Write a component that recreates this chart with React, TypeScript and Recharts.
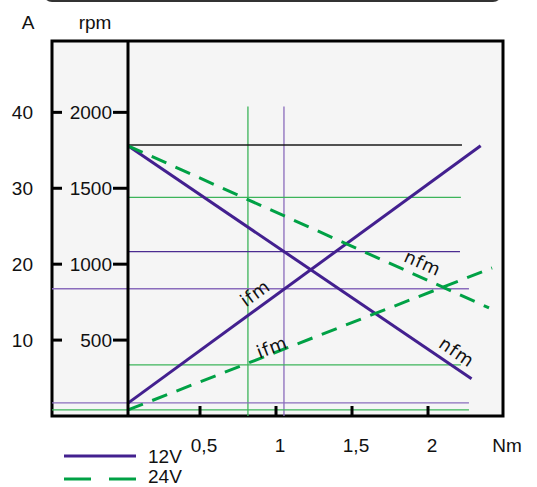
import React from "react";
import {
  ComposedChart,
  Line,
  XAxis,
  YAxis,
  CartesianGrid,
  ReferenceLine,
  ReferenceArea,
  ReferenceDot,
  Legend,
} from "recharts";

// Motor characteristics: speed (nfm) and current (ifm) against torque, 12V and 24V.
const FONT = "'Liberation Sans', Arial, sans-serif";
const CURVE_FONT = "'DejaVu Sans', Verdana, sans-serif";

const RPM_PER_AMP = 50; // 500 rpm on the right scale == 10 A on the left scale
const RPM_MAX = 2470;
const TORQUE_MIN = -0.5;
const TORQUE_MAX = 2.467;
const AXIS_W = 52; // left margin 0 + y-axis width => plot box left edge

const nfm12Torque = [0, 2.26];
const nfm12Rpm = [1780, 245];
const ifm12Torque = [0, 2.32];
const ifm12Amp = [1.7, 35.6];
const nfm24Torque = [0, 2.375];
const nfm24Rpm = [1780, 712];
const ifm24Torque = [0, 2.395];
const ifm24Amp = [0.8, 19.5];

const rpmTicks = [500, 1000, 1500, 2000];
const torqueTicks = [0.5, 1, 1.5, 2];
const torqueTickLabels = ["0,5", "1", "1,5", "2"];

// horizontal read-off lines (rpm), their start / end torque
const hMarkRpm = [1785, 1440, 1083, 838, 337, 86, 40];
const hMarkFrom = [0, 0, 0, -0.5, 0, -0.5, -0.5];
const hMarkTo = [2.197, 2.19, 2.184, 2.243, 2.19, 2.243, 2.243];
const hMarkKind = ["black", "green", "purple", "lilac", "green", "lilac", "green"];

// vertical read-off lines (Nm)
const vMarkTorque = [0.789, 1.026];
const vMarkTop = 2038;
const vMarkKind = ["green", "lilac"];

const curveLabelText = ["ifm", "ifm", "nfm", "nfm"];
const curveLabelTorque = [0.836, 0.947, 1.94, 2.164];
const curveLabelRpm = [811, 455, 1009, 422];
const curveLabelAngle = [-36, -21, 24, 34];

const COLORS: Record<string, string> = {
  black: "#1a1a1a",
  green: "#3cb45a",
  purple: "#4b2c91",
  lilac: "#8a6cbc",
};
const PURPLE = "#43208f";
const GREEN = "#00a145";

const toPoints = (xs: number[], ys: number[]) => xs.map((x, i) => ({ x, v: ys[i] }));

function RpmTick({ y, payload }: any) {
  const rpm = payload.value as number;
  const x = AXIS_W;
  const txt = { fontSize: 19, fontFamily: FONT, fill: "#111", dy: "0.36em", textAnchor: "end" as const };
  return (
    <g>
      <text x={x - 19} y={y} {...txt}>
        {rpm / RPM_PER_AMP}
      </text>
      <line x1={x} x2={x + 10} y1={y} y2={y} stroke="#000" strokeWidth={3} />
      <text x={x + 60} y={y} {...txt}>
        {rpm}
      </text>
      <line x1={x + 61} x2={x + 75} y1={y} y2={y} stroke="#000" strokeWidth={3} />
    </g>
  );
}

function TorqueTick({ x, y, payload, index }: any) {
  return (
    <g>
      <line x1={x - 4} x2={x - 4} y1={y} y2={y - 10} stroke="#000" strokeWidth={3} />
      <text x={x} y={y + 29} dy="0.36em" textAnchor="middle" fontSize={19} fontFamily={FONT} fill="#111">
        {torqueTickLabels[index] ?? payload.value}
      </text>
    </g>
  );
}

function LegendBox() {
  return (
    <svg width={200} height={47}>
      <line x1={64} x2={136} y1={16} y2={16} stroke={PURPLE} strokeWidth={3} />
      <text x={148} y={16} dy="0.36em" fontSize={19} fontFamily={FONT} fill="#111">
        12V
      </text>
      <line x1={64} x2={136} y1={39} y2={39} stroke={GREEN} strokeWidth={3} strokeDasharray="27 18" />
      <text x={148} y={36} dy="0.36em" fontSize={19} fontFamily={FONT} fill="#111">
        24V
      </text>
    </svg>
  );
}

export default function App() {
  return (
    <div style={{ position: "absolute", left: 0, top: 0, width: 537, height: 487, background: "#fff", overflow: "hidden" }}>
      <div
        style={{
          position: "absolute",
          left: 43,
          top: -16,
          width: 459,
          height: 18,
          border: "2px solid #333",
          borderRadius: 12,
          boxSizing: "border-box",
        }}
      />
      <ComposedChart width={537} height={487} margin={{ top: 41, right: 34, left: 0, bottom: 31 }}>
        <CartesianGrid fill="#f5f5f5" horizontal={false} vertical={false} />
        <XAxis
          type="number"
          dataKey="x"
          domain={[TORQUE_MIN, TORQUE_MAX]}
          allowDataOverflow
          ticks={torqueTicks}
          axisLine={false}
          tickLine={false}
          tickSize={0}
          tickMargin={0}
          height={40}
          tick={<TorqueTick />}
          label={{
            content: ({ viewBox }: any) => (
              <text
                x={viewBox.x + viewBox.width + 4}
                y={viewBox.y + 29}
                dy="0.36em"
                textAnchor="middle"
                fontSize={19}
                fontFamily={FONT}
                fill="#111"
              >
                Nm
              </text>
            ),
          }}
        />
        <YAxis
          yAxisId="rpm"
          type="number"
          domain={[0, RPM_MAX]}
          allowDataOverflow
          ticks={rpmTicks}
          axisLine={false}
          tickLine={false}
          tickSize={0}
          tickMargin={0}
          width={AXIS_W}
          tick={<RpmTick />}
          label={{
            content: ({ viewBox }: any) => (
              <g fontSize={19} fontFamily={FONT} fill="#111">
                <text x={28} y={viewBox.y - 19} dy="0.36em" textAnchor="middle">
                  A
                </text>
                <text x={95} y={viewBox.y - 19} dy="0.36em" textAnchor="middle">
                  rpm
                </text>
              </g>
            ),
          }}
        />
        <YAxis yAxisId="amp" type="number" domain={[0, RPM_MAX / RPM_PER_AMP]} allowDataOverflow hide />

        {vMarkTorque.map((t, i) => (
          <ReferenceLine
            key={`v${i}`}
            yAxisId="rpm"
            segment={[
              { x: t, y: 0 },
              { x: t, y: vMarkTop },
            ]}
            stroke={COLORS[vMarkKind[i]]}
            strokeWidth={1.3}
          />
        ))}
        {hMarkRpm.map((r, i) => (
          <ReferenceLine
            key={`h${i}`}
            yAxisId="rpm"
            segment={[
              { x: hMarkFrom[i], y: r },
              { x: hMarkTo[i], y: r },
            ]}
            stroke={COLORS[hMarkKind[i]]}
            strokeWidth={1.3}
          />
        ))}

        <Line yAxisId="rpm" data={toPoints(nfm12Torque, nfm12Rpm)} dataKey="v" stroke={PURPLE} strokeWidth={3} dot={false} isAnimationActive={false} />
        <Line yAxisId="amp" data={toPoints(ifm12Torque, ifm12Amp)} dataKey="v" stroke={PURPLE} strokeWidth={3} dot={false} isAnimationActive={false} />
        <Line yAxisId="rpm" data={toPoints(nfm24Torque, nfm24Rpm)} dataKey="v" stroke={GREEN} strokeWidth={3} strokeDasharray="16 10" dot={false} isAnimationActive={false} />
        <Line yAxisId="amp" data={toPoints(ifm24Torque, ifm24Amp)} dataKey="v" stroke={GREEN} strokeWidth={3} strokeDasharray="16 10" dot={false} isAnimationActive={false} />

        <ReferenceLine yAxisId="rpm" x={0} stroke="#000" strokeWidth={3} />
        <ReferenceArea
          yAxisId="rpm"
          x1={TORQUE_MIN}
          x2={TORQUE_MAX}
          y1={0}
          y2={RPM_MAX}
          fill="none"
          fillOpacity={0}
          stroke="#000"
          strokeWidth={3}
          ifOverflow="visible"
        />

        {curveLabelText.map((txt, i) => (
          <ReferenceDot
            key={`l${i}`}
            yAxisId="rpm"
            x={curveLabelTorque[i]}
            y={curveLabelRpm[i]}
            r={0}
            ifOverflow="visible"
            shape={({ cx, cy }: any) => (
              <text
                x={cx}
                y={cy}
                dy="0.36em"
                textAnchor="middle"
                transform={`rotate(${curveLabelAngle[i]} ${cx} ${cy})`}
                fontSize={18}
                letterSpacing={1}
                fontFamily={CURVE_FONT}
                fill="#111"
              >
                {txt}
              </text>
            )}
          />
        ))}

        <Legend
          layout="vertical"
          align="center"
          verticalAlign="middle"
          wrapperStyle={{ left: 0, top: 440, width: 200, height: 47 }}
          content={() => <LegendBox />}
        />
      </ComposedChart>
    </div>
  );
}
